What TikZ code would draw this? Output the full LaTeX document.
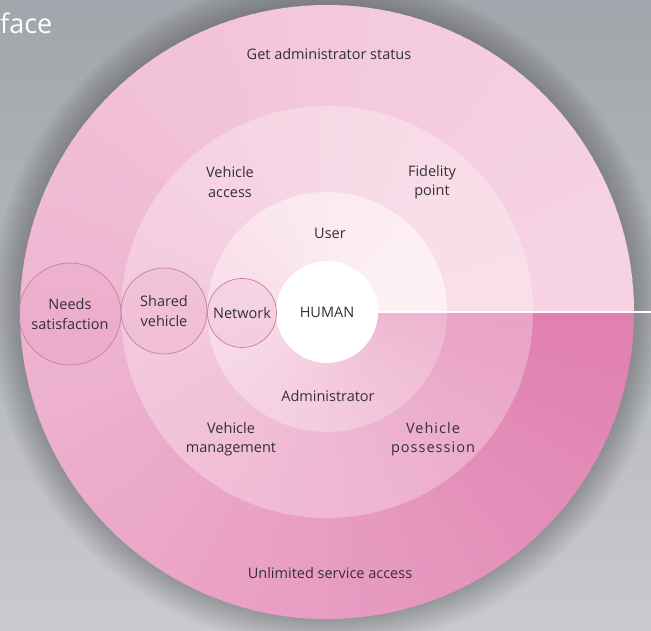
\documentclass[tikz,border=0pt]{standalone}
\usepackage{fontspec}
\setmainfont{Open Sans}
\definecolor{txt}{HTML}{353036}
\definecolor{oL}{HTML}{F6D2E2}\definecolor{oD}{HTML}{E07FB0}
\definecolor{mL}{HTML}{F9DFEA}\definecolor{mD}{HTML}{E9A2C5}
\definecolor{iL}{HTML}{FDF1F6}\definecolor{iD}{HTML}{EEB6D0}
\definecolor{bgT}{HTML}{A2A5AB}\definecolor{bgB}{HTML}{C8CACE}
\definecolor{ringedge}{HTML}{C57FA0}
\newcommand\conicring[3]{%
  \foreach \a in {0,2,...,358}{%
    \pgfmathtruncatemacro\t{100*((\a+1)/360)^1.5}%
    \pgfmathsetmacro\e{min(\a+2.6,360)}%
    \fill[#3!\t!#2] (c) -- ++(\a:#1) arc[start angle=\a,end angle=\e,radius=#1] -- cycle;
  }}
\begin{document}
\begin{tikzpicture}[x=1pt,y=1pt,
  lbl/.style={text=txt,font=\fontsize{14.5}{19.5}\selectfont,align=center,inner sep=0pt},
  bubble/.style={circle,draw=ringedge,line width=0.7pt,fill=oD,fill opacity=0.12,text opacity=1,inner sep=0pt,text=txt,font=\fontsize{14.5}{19.5}\selectfont,align=center}]
\useasboundingbox (0,0) rectangle (651,630);
\shade[top color=bgT,bottom color=bgB] (0,0) rectangle (651,630);
\coordinate (c) at (327,318);
\foreach \k in {1,...,12} \fill[black,opacity=0.018] (c) circle ({307+2.5*\k});
\conicring{307}{oL}{oD}
\conicring{206}{mL}{mD}
\conicring{120}{iL}{iD}
\node[circle,fill=white,minimum size=102pt,inner sep=0pt,lbl] (human) at (c) {HUMAN};
\coordinate (lineend) at (651,318);
\draw[white,line width=1.5pt] (human.east) -- (lineend);
\node[bubble,minimum size=69pt] (network) at (242,317) {Network};
\node[bubble,minimum size=86pt] (shared) at (164,319) {Shared\\vehicle};
\node[bubble,minimum size=102pt] (needs) at (70,316) {Needs\\satisfaction};
\node[lbl] (admstatus) at (329,576) {Get administrator status};
\node[lbl] (vaccess) at (230,448) {Vehicle\\access};
\node[lbl] (fidelity) at (432,448) {Fidelity\\point};
\node[lbl] (user) at (330,397) {User};
\node[lbl] (admin) at (328,234) {Administrator};
\node[lbl] (vmanage) at (231,191) {Vehicle\\management};
\node[lbl,font=\fontsize{14.5}{19.5}\selectfont\addfontfeature{LetterSpace=7}] (vposs) at (433,191) {Vehicle\\possession};
\node[lbl] (unlimited) at (330,57) {Unlimited service access};
\node[anchor=west,text=white,font=\fontsize{27}{30}\selectfont,inner sep=0pt] (face) at (0,607) {face};
\end{tikzpicture}
\end{document}
